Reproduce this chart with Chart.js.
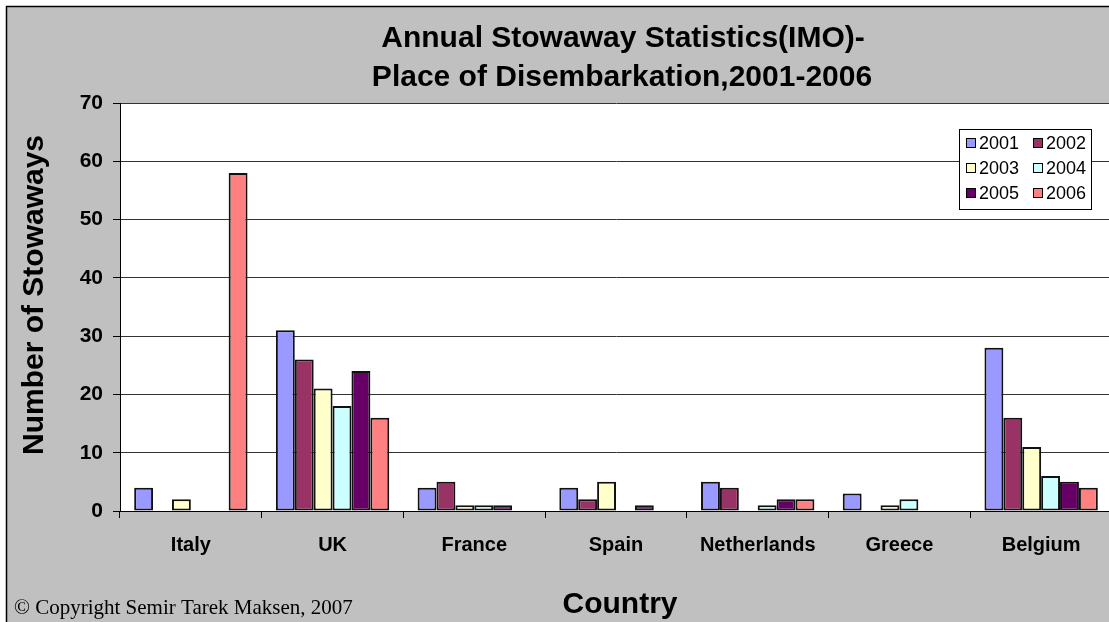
<!DOCTYPE html>
<html>
<head>
<meta charset="utf-8">
<script src="https://cdn.jsdelivr.net/npm/chart.js@4/dist/chart.umd.min.js"></script>
<style>
  html, body { margin: 0; padding: 0; background: #fff; overflow: hidden; }
</style>
</head>
<body>
<canvas id="myChart" width="1112" height="622"></canvas>
<script>
var countries = ["Italy", "UK", "France", "Spain", "Netherlands", "Greece", "Belgium"];
var years = ["2001", "2002", "2003", "2004", "2005", "2006"];
var y2001 = [4, 31, 4, 4, 5, 3, 28];
var y2002 = [0, 26, 5, 2, 4, 0, 16];
var y2003 = [2, 21, 1, 5, 0, 1, 11];
var y2004 = [0, 18, 1, 0, 1, 2, 6];
var y2005 = [0, 24, 1, 1, 2, 0, 5];
var y2006 = [58, 16, 0, 0, 2, 0, 4];
var yTicks = [0, 10, 20, 30, 40, 50, 60, 70];

var colors = ["#9999FF", "#993366", "#FFFFCC", "#CCFFFF", "#660066", "#FF8080"];
var series = [y2001, y2002, y2003, y2004, y2005, y2006];

var sans = "'Liberation Sans', Arial, sans-serif";
var serif = "'Liberation Serif', 'Times New Roman', serif";

// grey frame, white plot area, titles and the two-column legend
var decorations = {
  id: 'decorations',
  beforeDraw: function (chart) {
    var c = chart.ctx, a = chart.chartArea;
    c.save();
    c.fillStyle = '#fff';
    c.fillRect(0, 0, chart.width, chart.height);
    c.fillStyle = '#C0C0C0';
    c.fillRect(6, 6, chart.width - 6, chart.height - 6);
    c.strokeStyle = '#000';
    c.lineWidth = 1.5;
    c.beginPath();
    c.moveTo(6.5, chart.height);
    c.lineTo(6.5, 6.5);
    c.lineTo(chart.width, 6.5);
    c.stroke();
    c.fillStyle = '#fff';
    c.fillRect(a.left, a.top, a.right - a.left, a.bottom - a.top);
    c.restore();
  },
  afterDraw: function (chart) {
    var c = chart.ctx;
    c.save();
    c.fillStyle = '#000';
    c.textAlign = 'center';
    c.textBaseline = 'alphabetic';
    c.font = 'bold 30px ' + sans;
    c.fillText('Annual Stowaway Statistics(IMO)-', 623, 47);
    c.fillText('Place of Disembarkation,2001-2006', 622, 86);
    c.fillText('Country', 620, 613);

    c.save();
    c.translate(43, 295);
    c.rotate(-Math.PI / 2);
    c.fillText('Number of Stowaways', 0, 0);
    c.restore();

    c.textAlign = 'left';
    c.font = '21px ' + serif;
    c.fillText('\u00A9 Copyright Semir Tarek Maksen, 2007', 14, 614);

    // legend box
    var bx = 959, by = 129, bw = 132, bh = 80;
    c.fillStyle = '#fff';
    c.fillRect(bx, by, bw, bh);
    c.strokeStyle = '#000';
    c.lineWidth = 1;
    c.strokeRect(bx + 0.5, by + 0.5, bw, bh);
    c.font = '18px ' + sans;
    c.textBaseline = 'middle';
    chart.data.datasets.forEach(function (ds, i) {
      var col = i % 2, row = Math.floor(i / 2);
      var sx = 966 + col * 67, sy = 143 + row * 25;
      c.fillStyle = ds.backgroundColor;
      c.fillRect(sx, sy - 5, 10, 10);
      c.strokeRect(sx + 0.5, sy - 4.5, 9, 9);
      c.fillStyle = '#000';
      c.fillText(ds.label, sx + 13, sy + 1);
    });
    c.restore();
  }
};

var ctx = document.getElementById("myChart").getContext('2d');
var myChart = new Chart(ctx, {
  type: 'bar',
  data: {
    labels: countries,
    datasets: years.map(function (yr, i) {
      return {
        label: yr,
        data: series[i],
        backgroundColor: colors[i],
        borderColor: '#111',
        borderWidth: function (c) { return c.raw ? 2 : 0; },
        borderSkipped: false,
        categoryPercentage: 0.8,
        barPercentage: 1.0
      };
    })
  },
  options: {
    responsive: false,
    animation: false,
    layout: { padding: { top: 103, left: 0, right: 0, bottom: 0 } },
    plugins: {
      legend: { display: false },
      title: { display: false },
      tooltip: { enabled: false }
    },
    scales: {
      x: {
        grid: { offset: true, drawOnChartArea: false, drawTicks: true, tickLength: 7, tickColor: '#000', color: '#000' },
        border: { color: '#000', width: 1 },
        ticks: { color: '#000', font: { family: sans, size: 20, weight: 'bold' }, padding: 15, maxRotation: 0, autoSkip: false },
        afterFit: function (s) { s.height = 111; }
      },
      y: {
        min: 0,
        max: 70,
        afterBuildTicks: function (s) { s.ticks = yTicks.map(function (v) { return { value: v }; }); },
        grid: { color: '#333', lineWidth: 1, tickLength: 7, tickColor: '#000' },
        border: { color: '#000', width: 1 },
        ticks: { color: '#000', font: { family: sans, size: 21, weight: 'bold' }, padding: 10 },
        afterFit: function (s) { s.width = 120; }
      }
    }
  },
  plugins: [decorations]
});
</script>
</body>
</html>
